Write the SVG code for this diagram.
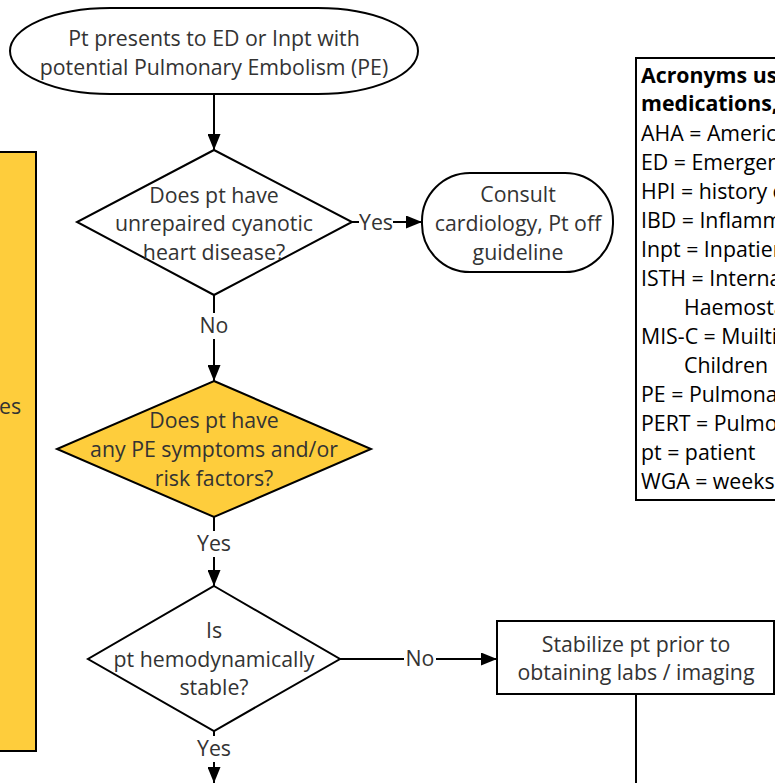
<svg xmlns="http://www.w3.org/2000/svg" width="775" height="783" viewBox="0 0 775 783">
<style>
.n{fill:#fff;stroke:#000;stroke-width:2}
.y{fill:#FECD3C;stroke:#000;stroke-width:2}
.t{font-family:"Open Sans","DejaVu Sans",sans-serif;font-size:21.3px;fill:#333;text-anchor:middle}
.a{font-family:"Open Sans","DejaVu Sans",sans-serif;font-size:21.3px;fill:#000}
.b{font-weight:bold}
.e{stroke:#000;stroke-width:2;fill:none}
.lb{fill:#fff}
</style>
<defs>
<marker id="ah" markerWidth="16" markerHeight="13" refX="16" refY="6.5" orient="auto" markerUnits="userSpaceOnUse">
<path d="M0,0 L16,6.5 L0,13 Z" fill="#000"/>
</marker>
</defs>
<g id="side-panel">
<rect x="-10" y="152" width="46" height="599" class="y"/>
<text class="t" x="10" y="414">es</text>
</g>
<g id="start">
<rect x="10" y="8" width="408" height="86" rx="100" ry="43" class="n"/>
<text class="t" x="214" y="46">Pt presents to ED or Inpt with</text>
<text class="t" x="214" y="75">potential Pulmonary Embolism (PE)</text>
</g>
<g id="q-cyanotic">
<polygon points="214,150 352,222 214,295 77,222" class="n"/>
<text class="t" x="214" y="203">Does pt have</text>
<text class="t" x="214" y="231">unrepaired cyanotic</text>
<text class="t" x="214" y="260">heart disease?</text>
</g>
<g id="consult">
<rect x="422" y="173" width="191" height="99" rx="48" ry="48" class="n"/>
<text class="t" x="518" y="202">Consult</text>
<text class="t" x="518" y="231">cardiology, Pt off</text>
<text class="t" x="518" y="260">guideline</text>
</g>
<g id="q-symptoms">
<polygon points="214,381 371,449 214,517 57,449" class="y"/>
<text class="t" x="214" y="428">Does pt have</text>
<text class="t" x="214" y="457">any PE symptoms and/or</text>
<text class="t" x="214" y="486">risk factors?</text>
</g>
<g id="q-stable">
<polygon points="214,586 340,659 214,731 88,659" class="n"/>
<text class="t" x="214" y="638">Is</text>
<text class="t" x="214" y="667">pt hemodynamically</text>
<text class="t" x="214" y="695">stable?</text>
</g>
<g id="stabilize">
<rect x="497" y="621" width="277" height="73" class="n"/>
<text class="t" x="636" y="652">Stabilize pt prior to</text>
<text class="t" x="636" y="680">obtaining labs / imaging</text>
</g>
<g id="acronyms">
<rect x="636" y="58" width="160" height="442" class="n"/>
<text class="a b" x="641" y="83">Acronyms used (excluding</text>
<text class="a b" x="641" y="111">medications, units)</text>
<text class="a" x="641" y="141">AHA = American Heart Association</text>
<text class="a" x="641" y="170">ED = Emergency Department</text>
<text class="a" x="641" y="199">HPI = history of present illness</text>
<text class="a" x="641" y="228">IBD = Inflammatory bowel disease</text>
<text class="a" x="641" y="257">Inpt = Inpatient</text>
<text class="a" x="641" y="286">ISTH = International Society on Thrombosis and</text>
<text class="a" x="684" y="315">Haemostasis</text>
<text class="a" x="641" y="344">MIS-C = Muiltisystem Inflammatory Syndrome in</text>
<text class="a" x="684" y="373">Children</text>
<text class="a" x="641" y="402">PE = Pulmonary Embolism</text>
<text class="a" x="641" y="431">PERT = Pulmonary Embolism Response Team</text>
<text class="a" x="641" y="460">pt = patient</text>
<text class="a" x="641" y="489">WGA = weeks gestational age</text>
</g>
<g id="connectors">
<path d="M214,94 V150" class="e" marker-end="url(#ah)"/>
<path d="M352,222 H422" class="e" marker-end="url(#ah)"/>
<rect x="359" y="211" width="34" height="24" class="lb"/>
<text class="t" x="376" y="230">Yes</text>
<path d="M214,295 V381" class="e" marker-end="url(#ah)"/>
<rect x="199" y="313" width="30" height="26" class="lb"/>
<text class="t" x="214" y="333">No</text>
<path d="M214,517 V586" class="e" marker-end="url(#ah)"/>
<rect x="195" y="531" width="38" height="26" class="lb"/>
<text class="t" x="214" y="551">Yes</text>
<path d="M340,659 H497" class="e" marker-end="url(#ah)"/>
<rect x="404" y="647" width="32" height="24" class="lb"/>
<text class="t" x="420" y="666">No</text>
<path d="M636,694 V783" class="e"/>
<path d="M214,731 V783" class="e" marker-end="url(#ah)"/>
<rect x="195" y="736" width="38" height="26" class="lb"/>
<text class="t" x="214" y="756">Yes</text>
</g>
</svg>
